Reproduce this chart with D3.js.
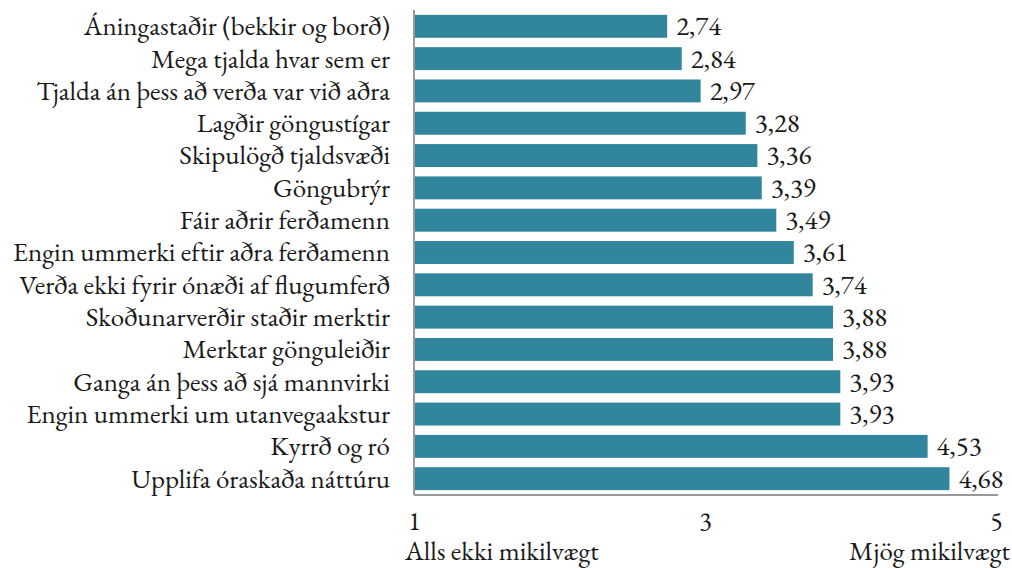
<!DOCTYPE html>
<html>
<head>
<meta charset="utf-8">
<script src="https://cdn.jsdelivr.net/npm/d3@7"></script>
<style>
  body { margin: 0; background: #fff; }
</style>
</head>
<body>
<div class="chart"></div>
<script>
const categories = [
  "Áningastaðir (bekkir og borð)",
  "Mega tjalda hvar sem er",
  "Tjalda án þess að verða var við aðra",
  "Lagðir göngustígar",
  "Skipulögð tjaldsvæði",
  "Göngubrýr",
  "Fáir aðrir ferðamenn",
  "Engin ummerki eftir aðra ferðamenn",
  "Verða ekki fyrir ónæði af flugumferð",
  "Skoðunarverðir staðir merktir",
  "Merktar gönguleiðir",
  "Ganga án þess að sjá mannvirki",
  "Engin ummerki um utanvegaakstur",
  "Kyrrð og ró",
  "Upplifa óraskaða náttúru"
];
const values = [2.74, 2.84, 2.97, 3.28, 3.36, 3.39, 3.49, 3.61, 3.74, 3.88, 3.88, 3.93, 3.93, 4.53, 4.68];
const tickValues = [1, 3, 5];
const endLabels = ["Alls ekki mikilvægt", "Mjög mikilvægt"];

const FONT = "EB Garamond";
const FS = 27;
const width = 1012, height = 568;
const margin = { top: 10, right: 16, bottom: 73, left: 414 };
const innerH = height - margin.top - margin.bottom;

const svg = d3.select(".chart").append("svg")
  .attr("width", width)
  .attr("height", height);

const g = svg.append("g")
  .attr("transform", "translate(" + margin.left + "," + margin.top + ")");

const x = d3.scaleLinear().domain([1, 5]).range([0, 582]);
const y = d3.scaleBand().domain(categories).range([0, innerH]).paddingInner(0.29).paddingOuter(0.15);

const fmt = d => d.toFixed(2).replace(".", ",");

// bars
g.selectAll(".bar")
  .data(values)
  .enter()
  .append("rect")
  .attr("class", "bar")
  .attr("x", x(1))
  .attr("y", (d, i) => y(categories[i]))
  .attr("width", d => x(d) - x(1))
  .attr("height", y.bandwidth())
  .attr("fill", "#31859c");

// value labels
g.selectAll(".val")
  .data(values)
  .enter()
  .append("text")
  .attr("class", "val")
  .attr("x", d => x(d) + 9)
  .attr("y", (d, i) => y(categories[i]) + y.bandwidth() / 2)
  .attr("dy", "0.33em")
  .attr("font-family", FONT)
  .attr("font-size", FS)
  .attr("fill", "#1a1a1a")
  .text(fmt);

// category labels
g.selectAll(".cat")
  .data(categories)
  .enter()
  .append("text")
  .attr("class", "cat")
  .attr("x", -24)
  .attr("y", d => y(d) + y.bandwidth() / 2)
  .attr("dy", "0.33em")
  .attr("text-anchor", "end")
  .attr("font-family", FONT)
  .attr("font-size", FS)
  .attr("fill", "#1a1a1a")
  .text(d => d);

// axis lines
g.append("line")
  .attr("x1", 0).attr("x2", 0)
  .attr("y1", 0).attr("y2", innerH)
  .attr("stroke", "#999").attr("stroke-width", 2);
g.append("line")
  .attr("x1", 0).attr("x2", x(5) + 2)
  .attr("y1", innerH).attr("y2", innerH)
  .attr("stroke", "#999").attr("stroke-width", 2);

// x ticks
const xAxis = d3.axisBottom(x).tickValues(tickValues).tickFormat(d3.format("d")).tickSize(0).tickPadding(0);
const xAxisGroup = g.append("g")
  .attr("class", "x-axis")
  .attr("transform", "translate(0," + innerH + ")")
  .call(xAxis);
xAxisGroup.select(".domain").remove();
xAxisGroup.selectAll("text")
  .attr("y", 35)
  .attr("dy", null)
  .attr("font-family", FONT)
  .attr("font-size", 26)
  .attr("fill", "#1a1a1a");

g.append("text")
  .attr("x", -9)
  .attr("y", innerH + 65)
  .attr("font-family", FONT)
  .attr("font-size", FS)
  .attr("fill", "#1a1a1a")
  .text(endLabels[0]);
g.append("text")
  .attr("x", width - margin.left - 2)
  .attr("y", innerH + 65)
  .attr("text-anchor", "end")
  .attr("font-family", FONT)
  .attr("font-size", FS)
  .attr("fill", "#1a1a1a")
  .text(endLabels[1]);
</script>
</body>
</html>
